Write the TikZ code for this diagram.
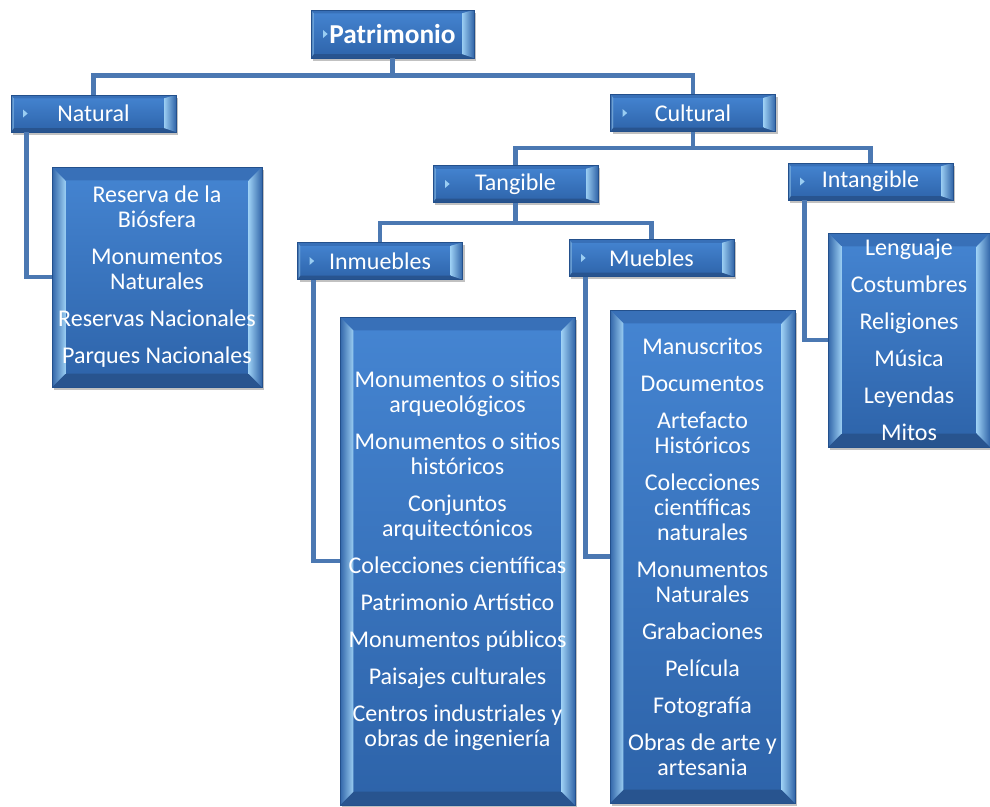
\documentclass[tikz,border=0pt]{standalone}
\usepackage{fontspec}
\setmainfont{Carlito}
\usepackage{tikz}
\usetikzlibrary{shadows}

\definecolor{bevtop}{HTML}{4585D2}
\definecolor{bevbot}{HTML}{2D63A9}
\definecolor{faceT}{HTML}{3870B8}
\definecolor{faceB}{HTML}{28548F}
\definecolor{bevout}{HTML}{3165A8}
\definecolor{bevlight}{HTML}{9ACDF2}
\definecolor{edgeblue}{HTML}{23508C}
\definecolor{linkblue}{HTML}{4B78B2}

% bevel faces: left, right, top, bottom depth
\newcommand\bevelfaces[4]{%
  \coordinate (bnw) at (path picture bounding box.north west);
  \coordinate (bne) at (path picture bounding box.north east);
  \coordinate (bsw) at (path picture bounding box.south west);
  \coordinate (bse) at (path picture bounding box.south east);
  \shade[top color=bevtop, bottom color=bevbot] (bsw) rectangle (bne);
  \fill[faceT] (bnw) -- (bne) -- ([shift={(-#2,-#3)}]bne) -- ([shift={(#1,-#3)}]bnw) -- cycle;
  \fill[faceB] (bsw) -- (bse) -- ([shift={(-#2,#4)}]bse) -- ([shift={(#1,#4)}]bsw) -- cycle;
  \shade[left color=bevout, right color=bevlight] (bsw) -- (bnw) -- ([shift={(#1,-#3)}]bnw) -- ([shift={(#1,#4)}]bsw) -- cycle;
  \shade[left color=bevlight, right color=bevout] (bse) -- (bne) -- ([shift={(-#2,-#3)}]bne) -- ([shift={(-#2,#4)}]bse) -- cycle;
}
\newcommand\catmarker{%
  \fill[bevlight] ([shift={(9pt,3pt)}]path picture bounding box.west) -- ++(3.5pt,-3pt) -- ++(-3.5pt,-3pt) -- cycle;
}

\begin{document}
\begin{tikzpicture}[
  x=0.75pt, y=-0.75pt,
  tile/.style={rectangle, draw=edgeblue, line width=0.6pt, text=white, align=center, inner sep=0pt,
    drop shadow={shadow xshift=1.5pt, shadow yshift=-2pt, opacity=0.35, fill=black!70}},
  catbox/.style={tile, minimum width=123.75pt, minimum height=27.75pt,
    font=\fontsize{18}{18.75}\selectfont, path picture={\bevelfaces{2pt}{9pt}{2.5pt}{3pt}\catmarker}},
  rootbox/.style={catbox, minimum width=122.25pt, minimum height=36pt,
    font=\bfseries\fontsize{20.5}{24}\selectfont},
  listbox/.style={tile, font=\fontsize{18}{18.75}\selectfont,
    path picture={\bevelfaces{10pt}{10pt}{10pt}{10pt}}},
  conn/.style={draw=linkblue, line width=3.6pt}
]
\useasboundingbox (0,0) rectangle (990,807);

\node[rootbox] (patr) at (392.5,34) {Patrimonio};
\node[catbox] (natural) at (93.5,113.5) {Natural};
\node[catbox] (cultural) at (693,113) {Cultural};
\node[catbox] (tangible) at (515.5,184) {Tangible};
\node[catbox] (intangible) at (870.5,181.5) {Intangible};
\node[catbox] (inmuebles) at (380,261) {Inmuebles};
\node[catbox] (muebles) at (651.5,258) {Muebles};

\node[listbox, minimum width=157.5pt, minimum height=165pt] (lnatural) at (157,277)
  {Reserva de la\\Biósfera\\[9pt]Monumentos\\Naturales\\[9pt]Reservas Nacionales\\[9pt]Parques Nacionales};
\node[listbox, minimum width=176.25pt, minimum height=366pt] (linmuebles) at (457.5,561)
  {Monumentos o sitios\\arqueológicos\\[9pt]Monumentos o sitios\\históricos\\[9pt]Conjuntos\\arquitectónicos\\[9pt]%
   Colecciones científicas\\[9pt]Patrimonio Artístico\\[9pt]Monumentos públicos\\[9pt]Paisajes culturales\\[9pt]%
   Centros industriales y\\obras de ingeniería};
\node[listbox, minimum width=138.75pt, minimum height=369.75pt] (lmuebles) at (702.5,556.5)
  {Manuscritos\\[9pt]Documentos\\[9pt]Artefacto\\Históricos\\[9pt]Colecciones\\científicas\\naturales\\[9pt]%
   Monumentos\\Naturales\\[9pt]Grabaciones\\[9pt]Película\\[9pt]Fotografía\\[9pt]Obras de arte y\\artesania};
\node[listbox, minimum width=121.5pt, minimum height=160.5pt] (lintangible) at (909,340)
  {Lenguaje\\[9pt]Costumbres\\[9pt]Religiones\\[9pt]Música\\[9pt]Leyendas\\[9pt]Mitos};

% tree links
\draw[conn] (patr.south) -- ++(0,17) -| (natural.north);
\draw[conn] (patr.south) -- ++(0,17) -| (cultural.north);
\draw[conn] (cultural.south) -- ++(0,16) -| (tangible.north);
\draw[conn] (cultural.south) -- ++(0,16) -| (intangible.north);
\draw[conn] (tangible.south) -- ++(0,20) -| (inmuebles.north);
\draw[conn] (tangible.south) -- ++(0,20) -| (muebles.north);
% side links to the lists
\draw[conn] ([xshift=12pt]natural.south west) |- (lnatural.west);
\draw[conn] ([xshift=12pt]inmuebles.south west) |- (linmuebles.west);
\draw[conn] ([xshift=12.5pt]muebles.south west) |- (lmuebles.west);
\draw[conn] ([xshift=12.5pt]intangible.south west) |- (lintangible.west);
\end{tikzpicture}
\end{document}
